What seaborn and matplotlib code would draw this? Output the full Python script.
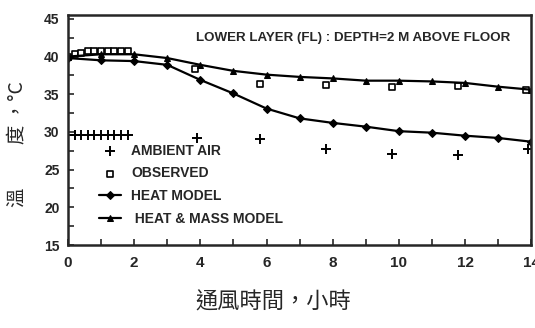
import numpy as np
import pandas as pd
import matplotlib
matplotlib.use("Agg")
import matplotlib.pyplot as plt
import seaborn as sns

# ---- data ----
amb_hours = [0.0, 0.2, 0.4, 0.6, 0.8, 1.0, 1.2, 1.4, 1.6, 1.8, 3.9, 5.8, 7.8, 9.8, 11.8, 13.9]
amb_temp = [29.6, 29.6, 29.6, 29.6, 29.6, 29.6, 29.6, 29.6, 29.6, 29.6, 29.2, 29.0, 27.8, 27.1, 26.9, 27.7]

obs_hours = [0.0, 0.2, 0.4, 0.6, 0.8, 1.0, 1.2, 1.4, 1.6, 1.8, 3.85, 5.8, 7.8, 9.8, 11.8, 13.85]
obs_temp = [40.0, 40.3, 40.5, 40.7, 40.8, 40.8, 40.8, 40.8, 40.8, 40.8, 38.3, 36.4, 36.2, 36.0, 36.1, 35.6]

model_hours = [0, 1, 2, 3, 4, 5, 6, 7, 8, 9, 10, 11, 12, 13, 14]
heat_temp = [39.8, 39.5, 39.4, 38.9, 36.9, 35.1, 33.1, 31.8, 31.2, 30.7, 30.1, 29.9, 29.5, 29.2, 28.7]
heat_mass_temp = [40.0, 40.3, 40.3, 39.8, 38.9, 38.1, 37.6, 37.3, 37.1, 36.8, 36.8, 36.7, 36.5, 36.0, 35.6]

amb = pd.DataFrame({"h": amb_hours, "t": amb_temp})
obs = pd.DataFrame({"h": obs_hours, "t": obs_temp})
mod = pd.DataFrame({"h": model_hours, "heat": heat_temp, "hm": heat_mass_temp})

sns.set_style("ticks")
plt.rcParams["font.family"] = ["Liberation Sans", "DejaVu Sans"]
cjk = ["Noto Sans CJK TC", "DejaVu Sans"]

fig = plt.figure(figsize=(5.35, 3.28), dpi=100)
ax = fig.add_axes([0.127, 0.253, 0.866, 0.701])

sns.scatterplot(data=amb, x="h", y="t", marker="+", s=45, color="black",
                linewidth=1.4, ax=ax, label="AMBIENT AIR")
sns.scatterplot(data=obs, x="h", y="t", marker="s", s=22, facecolor="white",
                edgecolor="black", linewidth=1.2, ax=ax, label="OBSERVED")
sns.lineplot(data=mod, x="h", y="heat", marker="D", markersize=4, color="black",
             linewidth=1.6, markeredgecolor="black", ax=ax, label="HEAT MODEL")
sns.lineplot(data=mod, x="h", y="hm", marker="^", markersize=5, color="black",
             linewidth=1.6, markeredgecolor="black", ax=ax, label=" HEAT & MASS MODEL")

ax.set_xlim(0, 14)
ax.set_ylim(15, 45.5)
ax.set_xticks(range(0, 15, 2))
ax.set_xticks(range(1, 15, 2), minor=True)
ax.set_yticks(range(15, 46, 5))
ax.set_yticks(np.arange(17.5, 45, 5), minor=True)
ax.tick_params(which="both", direction="in", length=4, width=1.2)
ax.tick_params(axis="x", labelsize=11, pad=8)
ax.tick_params(axis="y", labelsize=10, pad=6)
for lab in ax.get_xticklabels() + ax.get_yticklabels():
    lab.set_fontweight("bold")
for sp in ax.spines.values():
    sp.set_linewidth(1.8)
    sp.set_visible(True)

ax.text(0.955, 0.9, "LOWER LAYER (FL) : DEPTH=2 M ABOVE FLOOR", transform=ax.transAxes,
        ha="right", va="center", fontsize=9.6, fontweight="bold")

leg = ax.legend(loc="lower left", bbox_to_anchor=(0.04, 0.03), frameon=False,
                prop={"size": 10, "weight": "bold"},
                handlelength=1.6, handletextpad=0.7, labelspacing=0.62)

ax.set_xlabel("通風時間，小時", fontsize=16, family=cjk)
ax.xaxis.set_label_coords(0.443, -0.2)
ax.set_ylabel("溫　　 度 ，°C", fontsize=14, family=cjk)
ax.yaxis.set_label_coords(-0.088, 0.44)

fig.savefig("out.png", dpi=100)
